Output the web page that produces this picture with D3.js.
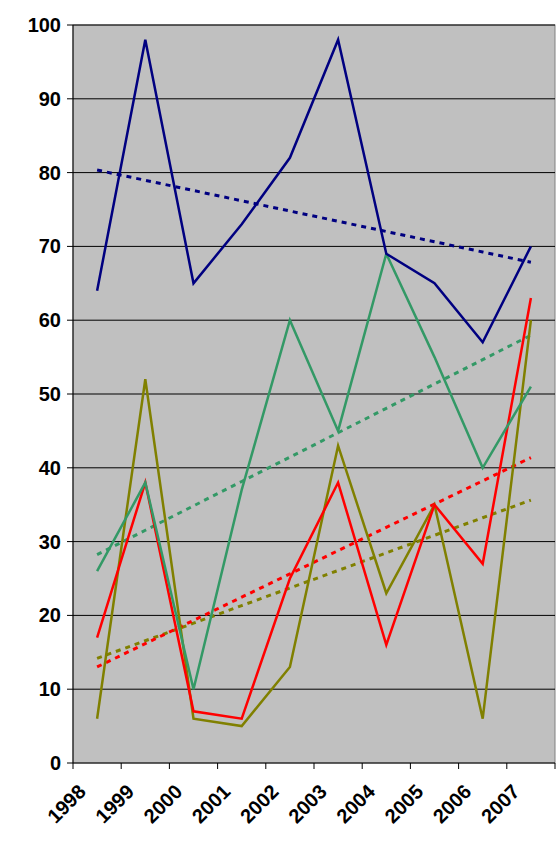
<!DOCTYPE html>
<html><head><meta charset="utf-8">
<script src="https://cdn.jsdelivr.net/npm/d3@7"></script>
<style>body{margin:0;background:#fff}</style>
</head><body>
<div id="chart"></div>
<script>
const years = ['1998','1999','2000','2001','2002','2003','2004','2005','2006','2007'];
const navySeries = [64, 98, 65, 73, 82, 98, 69, 65, 57, 70];
const tealSeries = [26, 38, 10, 37, 60, 45, 69, 55, 40, 51];
const redSeries = [17, 38, 7, 6, 25, 38, 16, 35, 27, 63];
const oliveSeries = [6, 52, 6, 5, 13, 43, 23, 35, 6, 60];
const yTicks = [0, 10, 20, 30, 40, 50, 60, 70, 80, 90, 100];

const series = [
  {values: oliveSeries, color: '#808000'},
  {values: redSeries, color: '#ff0000'},
  {values: tealSeries, color: '#339966'},
  {values: navySeries, color: '#000080'},
];

const W = 558, H = 851;
const plotLeft = 73, plotRight = 555, plotTop = 25, plotBottom = 763;

const svg = d3.select('#chart').append('svg').attr('width', W).attr('height', H);

const x = d3.scaleBand().domain(years).range([plotLeft, plotRight]);
const y = d3.scaleLinear().domain([0, 100]).range([plotBottom, plotTop]);
const cx = d => x(d) + x.bandwidth() / 2;

svg.append('rect').attr('x', plotLeft).attr('y', plotTop)
  .attr('width', plotRight - plotLeft).attr('height', plotBottom - plotTop)
  .attr('fill', '#c0c0c0').attr('stroke', '#808080');

svg.selectAll('line.grid').data(yTicks.slice(1)).join('line')
  .attr('x1', plotLeft).attr('x2', plotRight)
  .attr('y1', d => y(d)).attr('y2', d => y(d))
  .attr('stroke', '#000').attr('stroke-width', 1);

// y axis
svg.append('line').attr('x1', plotLeft).attr('x2', plotLeft).attr('y1', plotTop).attr('y2', plotBottom).attr('stroke', '#000');
svg.selectAll('line.yt').data(yTicks).join('line')
  .attr('x1', plotLeft - 6).attr('x2', plotLeft).attr('y1', d => y(d)).attr('y2', d => y(d)).attr('stroke', '#000');
svg.selectAll('text.yl').data(yTicks).join('text')
  .attr('x', plotLeft - 12).attr('y', d => y(d) + 7)
  .attr('text-anchor', 'end')
  .style('font', 'bold 20px "Liberation Sans", Arial, sans-serif')
  .text(d => d);

// x axis
svg.append('line').attr('x1', plotLeft).attr('x2', plotRight).attr('y1', plotBottom).attr('y2', plotBottom).attr('stroke', '#000');
const bounds = years.map(d => x(d)).concat([plotRight]);
svg.selectAll('line.xt').data(bounds).join('line')
  .attr('x1', d => d).attr('x2', d => d).attr('y1', plotBottom).attr('y2', plotBottom + 6).attr('stroke', '#000');
svg.selectAll('text.xl').data(years).join('text')
  .attr('transform', d => `translate(${cx(d) - 10},${plotBottom + 30}) rotate(-45)`)
  .attr('text-anchor', 'end')
  .style('font', 'bold 20px "Liberation Sans", Arial, sans-serif')
  .text(d => d);

// trend lines (least squares over index 1..10)
const trend = vals => {
  const n = vals.length;
  const xs = d3.range(1, n + 1);
  const mx = d3.mean(xs), my = d3.mean(vals);
  const b = d3.sum(xs, (xi, i) => (xi - mx) * (vals[i] - my)) / d3.sum(xs, xi => (xi - mx) ** 2);
  const a = my - b * mx;
  return xs.map(xi => a + b * xi);
};

const line = d3.line().x((d, i) => cx(years[i])).y(d => y(d));

series.forEach(s => {
  svg.append('path').attr('d', line(trend(s.values)))
    .attr('fill', 'none').attr('stroke', s.color)
    .attr('stroke-width', 3).attr('stroke-dasharray', '5,5');
});
series.forEach(s => {
  svg.append('path').attr('d', line(s.values))
    .attr('fill', 'none').attr('stroke', s.color)
    .attr('stroke-width', 2.5).attr('stroke-linejoin', 'miter');
});
</script>
</body></html>
